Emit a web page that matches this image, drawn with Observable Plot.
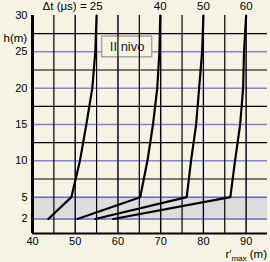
<!DOCTYPE html>
<html>
<head>
<meta charset="utf-8">
<script src="https://cdn.jsdelivr.net/npm/d3@7"></script>
<script src="https://cdn.jsdelivr.net/npm/@observablehq/plot@0.6"></script>
<style>
  html, body { margin: 0; padding: 0; background: #f6f3e4; }
  #chart svg { display: block; }
</style>
</head>
<body>
<div id="chart"></div>
<script>
// Data
const heights = [2, 5, 10, 15, 20, 25, 30];          // h (m)
const r25 = [43.7, 49.1, 51.1, 52.6, 54.0, 54.7, 55.0];
const r40 = [50.5, 65.2, 66.9, 68.2, 69.2, 69.7, 69.9];
const r50 = [54.7, 76.1, 77.1, 78.3, 79.0, 79.7, 80.0];
const r60 = [58.9, 86.3, 87.4, 88.6, 89.3, 89.5, 90.0];
const seriesNames = ["25", "40", "50", "60"];
const seriesValues = [r25, r40, r50, r60];

const xTicks = [40, 50, 60, 70, 80, 90];
const xGrid = [50, 60, 70, 80, 90];
const xMinor = [45, 50, 55, 60, 65, 70, 75, 80, 85, 90];
const yTicks = [2, 5, 10, 15, 20, 25, 30];
const yGrid = [2, 5, 10, 15, 20, 25];
const yMinor = [7.5, 12.5, 17.5, 22.5, 27.5];
const xDomain = [40, 95];
const yDomain = [0, 30];
const band = [2, 5];  // gray band (II nivo zone)

const topLabelFirst = "Δt (μs) = 25";
const topLabelsRest = ["40", "50", "60"];
const boxLabel = "II nivo";
const yTitle = "h(m)";

const rows = [];
seriesValues.forEach((vals, i) => {
  vals.forEach((r, j) => rows.push({series: seriesNames[i], r, h: heights[j]}));
});
const tops = seriesValues.map((v, i) => ({series: seriesNames[i], r: v[v.length - 1], h: heights[heights.length - 1]}));

const grid = "#8585c8";
const plot = Plot.plot({
  width: 270,
  height: 262,
  marginLeft: 32,
  marginRight: 3,
  marginTop: 15,
  marginBottom: 29,
  style: {background: "#f6f3e4", fontFamily: "Liberation Sans, Arial, sans-serif", fontSize: "11px", color: "#000"},
  x: {domain: xDomain, ticks: xTicks, tickSize: 0, tickPadding: 4, label: null},
  y: {domain: yDomain, ticks: yTicks, tickSize: 0, tickPadding: 5, label: null},
  marks: [
    Plot.rect([band], {x1: xDomain[0], x2: xDomain[1], y1: d => d[0], y2: d => d[1], fill: "#dcdcdc"}),
    Plot.ruleX(xGrid, {stroke: grid, strokeWidth: 1.5}),
    Plot.ruleY(yGrid, {stroke: d => (d <= 5 ? "#6a6ac0" : grid), strokeWidth: 1.5}),
    Plot.rect([boxLabel], {x1: 56.3, x2: 68.0, y1: 24.25, y2: 27.1, fill: "#f6f3e4", stroke: "#a8a8a0", strokeWidth: 1.5}),
    Plot.text([boxLabel], {x: 62.15, y: 25.7, text: d => d, fontSize: 13, fill: "#222"}),
    Plot.line(rows, {x: "r", y: "h", z: "series", stroke: "#000", strokeWidth: 2.2, strokeLinejoin: "round"}),
    Plot.tickX(xMinor, {x: d => d, y1: 0, y2: 0.35, stroke: "#000", strokeWidth: 1.2}),
    Plot.tickY(yMinor, {y: d => d, x1: 40, x2: 40.6, stroke: "#000", strokeWidth: 1.2}),
    Plot.ruleX([xDomain[0]], {y1: yDomain[0], y2: yDomain[1], stroke: "#000", strokeWidth: 3}),
    Plot.ruleY([yDomain[0]], {x1: xDomain[0], x2: xDomain[1], stroke: "#000", strokeWidth: 2}),
    Plot.text(tops.slice(0, 1), {x: "r", y: "h", text: () => topLabelFirst, textAnchor: "end", dx: 6, dy: -9, fontSize: 11.5}),
    Plot.text(tops.slice(1), {x: "r", y: "h", text: (d, i) => topLabelsRest[i], dy: -9, fontSize: 11.5}),
    Plot.text([yTitle], {frameAnchor: "top-left", text: d => d, textAnchor: "start", dx: -29, dy: 18, fontSize: 11.5})
  ]
});
document.getElementById("chart").appendChild(plot);

// x axis title r'max (m) with subscript
const svg = d3.select(plot);
const t = svg.append("text")
  .attr("x", 267).attr("y", 258)
  .attr("text-anchor", "end")
  .attr("font-size", 11.5)
  .attr("fill", "#000");
t.append("tspan").text("r′");
t.append("tspan").attr("dy", 3).attr("font-size", 8).text("max");
t.append("tspan").attr("dy", -3).text(" (m)");
</script>
</body>
</html>
